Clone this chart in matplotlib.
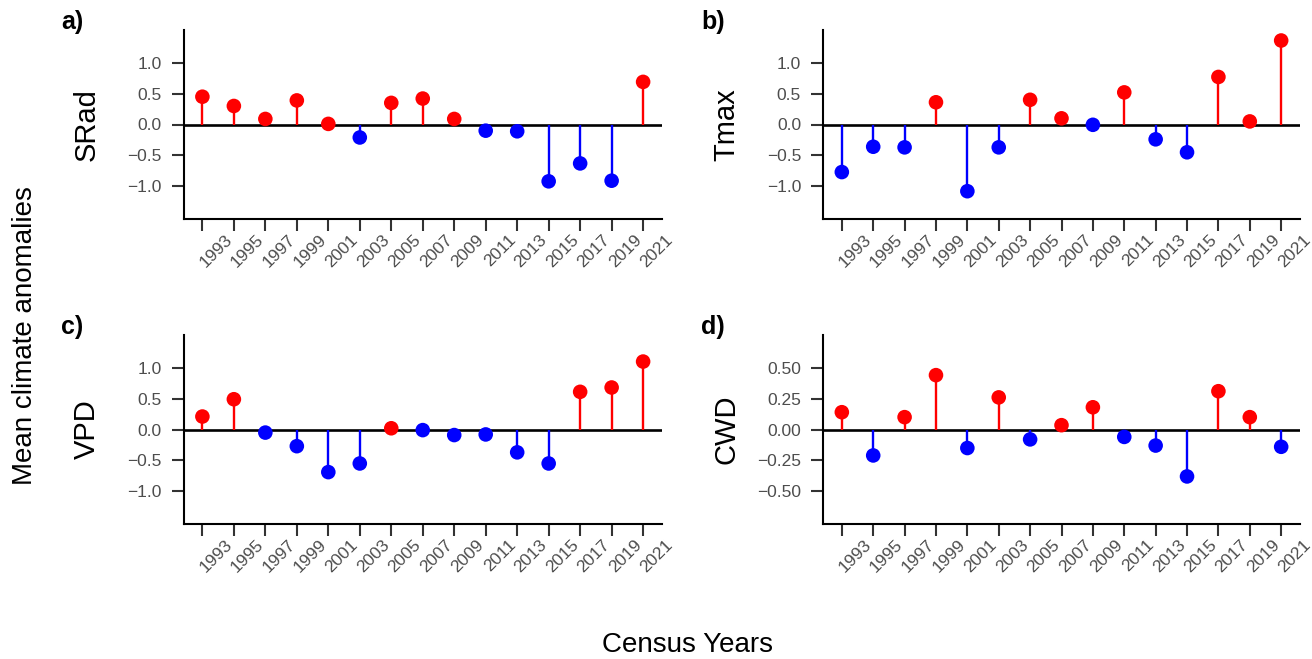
import matplotlib
matplotlib.use("Agg")
import matplotlib.pyplot as plt
import matplotlib.transforms as mtransforms
import numpy as np

plt.rcParams["font.family"] = ["Liberation Sans", "DejaVu Sans"]

years = ["1993", "1995", "1997", "1999", "2001", "2003", "2005", "2007",
         "2009", "2011", "2013", "2015", "2017", "2019", "2021"]

srad = [0.45, 0.30, 0.09, 0.39, 0.01, -0.21, 0.35, 0.42,
        0.09, -0.10, -0.11, -0.92, -0.63, -0.91, 0.69]
tmax = [-0.77, -0.36, -0.37, 0.36, -1.08, -0.37, 0.40, 0.10,
        -0.005, 0.52, -0.24, -0.45, 0.77, 0.05, 1.36]
vpd = [0.21, 0.49, -0.05, -0.27, -0.69, -0.55, 0.02, -0.01,
       -0.09, -0.08, -0.37, -0.55, 0.61, 0.68, 1.10]
cwd = [0.14, -0.21, 0.10, 0.44, -0.15, 0.26, -0.08, 0.035,
       0.18, -0.06, -0.13, -0.38, 0.31, 0.10, -0.14]

panels = [
    ("a)", "SRad", srad, [-1.0, -0.5, 0.0, 0.5, 1.0], "{:.1f}", 1.53),
    ("b)", "Tmax", tmax, [-1.0, -0.5, 0.0, 0.5, 1.0], "{:.1f}", 1.53),
    ("c)", "VPD", vpd, [-1.0, -0.5, 0.0, 0.5, 1.0], "{:.1f}", 1.53),
    ("d)", "CWD", cwd, [-0.5, -0.25, 0.0, 0.25, 0.5], "{:.2f}", 0.765),
]

W, H = 1312, 659
fig = plt.figure(figsize=(W / 100, H / 100), dpi=100)

# axes boxes in pixels: left, right, top, bottom
boxes = [(183.5, 662, 30, 219), (823, 1300, 30, 219),
         (183.5, 662, 335, 524), (823, 1300, 335, 524)]

tick_grey = "#333333"
text_grey = "#4D4D4D"

for (tag, ylab, vals, yt, fmt, ylim), (l, r, t, b) in zip(panels, boxes):
    ax = fig.add_axes([l / W, 1 - b / H, (r - l) / W, (b - t) / H])
    vals = np.asarray(vals)
    x = np.arange(len(years))
    cols = np.where(vals >= 0, "#FF0000", "#0000FF")

    ax.axhline(0, color="black", lw=1.9, zorder=2)
    ax.vlines(x, 0, vals, colors=cols, lw=1.7, zorder=3)
    ax.scatter(x, vals, c=cols, s=10.5 ** 2, linewidths=0, zorder=4)

    ax.set_xlim(-0.6, len(years) - 0.4)
    ax.set_ylim(-ylim, ylim)
    ax.set_xticks(x)
    ax.set_xticklabels(years)
    ax.set_yticks(yt)
    ax.set_yticklabels([fmt.format(v).replace("-", "\u2212") for v in yt])

    for s in ["top", "right"]:
        ax.spines[s].set_visible(False)
    for s in ["left", "bottom"]:
        ax.spines[s].set_linewidth(1.5)
        ax.spines[s].set_color("black")
        ax.spines[s].set_capstyle("projecting")

    ax.tick_params(axis="both", length=8.8, width=1.5, color=tick_grey,
                   labelcolor=text_grey, labelsize=12.5)
    ax.tick_params(axis="y", pad=7)
    ax.tick_params(axis="x", pad=0.5)

    offset = mtransforms.ScaledTranslation(0.22, 0, fig.dpi_scale_trans)
    for lab in ax.get_xticklabels():
        lab.set_rotation(45)
        lab.set_ha("right")
        lab.set_va("top")
        lab.set_rotation_mode("anchor")
        lab.set_transform(lab.get_transform() + offset)

    ax.set_ylabel(ylab, fontsize=21, color="black")
    ax.yaxis.set_label_coords(-83 / (r - l), 0.5)

    fig.text((l - 122) / W, 1 - (t - 1) / H, tag, fontsize=18, fontweight="bold",
             ha="left", va="baseline")

fig.text(25 / W, 1 - 336 / H, "Mean climate anomalies", rotation=90,
         fontsize=20, ha="center", va="center")
fig.text(687 / W, 1 - 652 / H, "Census Years", fontsize=20,
         ha="center", va="baseline")

fig.savefig("out.png", dpi=100)
